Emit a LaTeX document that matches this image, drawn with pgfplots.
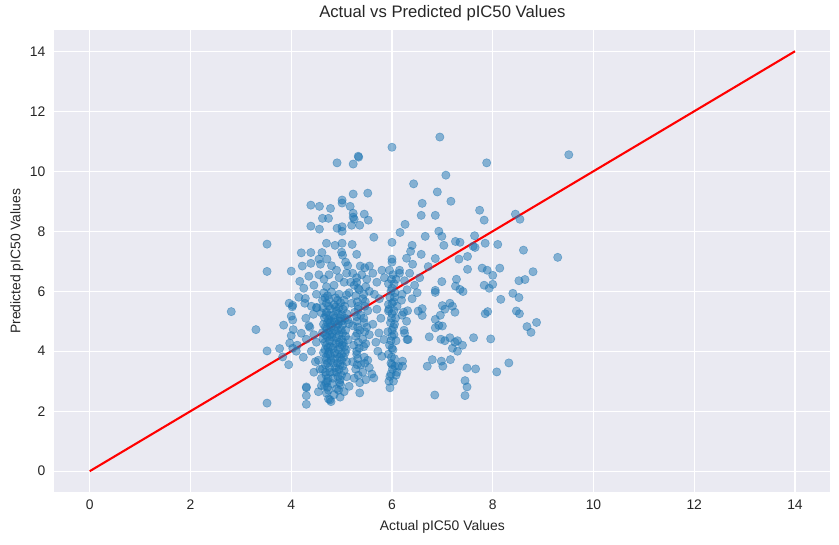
\documentclass[border=0pt]{standalone}
\usepackage{pgfplots}
\pgfplotsset{compat=1.18}
\usepackage{fontspec}
\setmainfont{Liberation Sans}
\definecolor{bgc}{HTML}{EAEAF2}
\definecolor{cz}{HTML}{1F77B4}
\definecolor{txt}{rgb}{0.15,0.15,0.15}
\begin{document}
\begin{tikzpicture}
\begin{axis}[
  name=ax,
  scale only axis,
  width=558.6pt, height=332.6pt,
  xmin=-0.7, xmax=14.7, ymin=-0.7, ymax=14.7,
  xtick={0,2,...,14}, ytick={0,2,...,14},
  /pgf/number format/assume math mode=true,
  tick label style={font=\fontsize{10}{12}\selectfont, text=txt},
  xticklabel style={inner sep=0pt, anchor=north, yshift=-5.6pt},
  yticklabel style={inner sep=0pt, anchor=east, xshift=-6.3pt},
  major tick length=0pt,
  axis line style={draw=none},
  axis background/.style={fill=bgc},
  grid=major,
  major grid style={white, line width=1pt},
  xlabel={Actual pIC50 Values},
  ylabel={Predicted pIC50 Values},
  every axis x label/.style={at={(axis description cs:0.5,-0.0752)}, anchor=center, font=\fontsize{10}{12}\selectfont, text=txt},
  every axis y label/.style={at={(axis description cs:-0.0485,0.5)}, rotate=90, anchor=center, font=\fontsize{10}{12}\selectfont, text=txt},
  title={Actual vs Predicted pIC50 Values},
  every axis title/.style={at={(axis description cs:0.5,1.037)}, anchor=center, font=\fontsize{12}{14}\selectfont, text=txt},
]
\addplot[only marks, mark=*, mark size=3pt, mark options={fill=cz, draw=cz, fill opacity=0.5, draw opacity=0.5, line width=0.4pt}] coordinates {
(2.81,5.32) (3.30,4.72) (3.52,7.57) (3.52,6.66) (3.52,4.01) (3.52,2.27) (3.77,4.09) (3.85,4.87) (3.83,3.81) (3.95,3.55)
(3.96,5.60) (4.02,5.48) (4.03,5.04) (4.00,5.17) (4.04,4.72) (4.00,4.52) (3.97,4.27) (4.03,4.10) (4.10,4.00) (4.12,4.20)
(4.24,3.80) (4.30,2.81) (4.30,2.78) (4.30,2.52) (4.30,2.23) (4.29,5.10) (4.35,4.85) (4.27,5.60) (4.28,5.76) (4.03,5.53)
(4.00,6.67) (4.17,6.33) (4.20,7.28) (4.39,7.29) (4.61,7.29) (4.55,7.07) (4.71,7.07) (4.22,6.84) (4.39,6.93)
(4.39,8.87) (4.56,8.83) (4.78,8.76) (5.01,9.04) (5.01,8.94) (5.17,8.83) (5.23,8.60) (5.23,8.47) (5.25,8.40) (5.45,8.57)
(5.53,8.37) (4.62,8.43) (4.74,8.43) (4.39,8.17) (4.56,8.07) (4.91,8.10) (5.01,8.15) (5.01,8.00) (5.20,8.20) (5.36,8.20)
(4.91,10.28) (5.23,10.24) (5.33,10.50) (5.34,10.47) (6.00,10.80) (6.95,11.14) (7.88,10.28) (9.51,10.55) (7.07,9.87) (6.43,9.58)
(5.52,9.27) (5.23,9.24) (6.90,9.31) (7.17,9.00) (6.60,8.93) (7.74,8.70) (7.83,8.37) (8.45,8.57) (8.54,8.40) (6.58,8.53)
(6.86,8.53) (6.26,8.23) (6.16,7.96) (6.93,8.00) (6.99,7.83) (6.66,7.83) (5.64,7.80) (7.64,7.85) (4.70,7.60) (4.87,7.53)
(5.01,7.60) (5.21,7.56) (6.00,7.63) (6.40,7.53) (6.37,7.33) (7.03,7.53) (7.26,7.66) (7.35,7.63) (7.61,7.50) (7.65,7.46)
(7.85,7.60) (8.10,7.56) (8.61,7.37) (9.29,7.13) (5.00,7.30) (5.02,7.20) (5.08,6.97) (5.12,6.85) (5.30,7.23) (5.37,6.84)
(5.46,6.78) (5.55,6.84) (6.00,7.07) (6.00,6.97) (6.29,7.10) (6.41,6.90) (6.58,7.23) (6.72,6.82) (6.86,7.09) (7.33,7.07)
(7.50,7.16) (7.50,6.73) (7.79,6.77) (7.89,6.70) (8.00,6.53) (8.14,6.77) (8.80,6.65) (8.52,6.35) (8.64,6.39) (7.83,6.20)
(7.93,6.10) (8.00,6.23) (7.28,6.40) (7.26,6.17) (7.35,6.06) (7.41,5.99) (6.99,6.32) (6.86,6.03) (6.86,5.96) (8.40,5.93)
(8.52,5.79) (8.16,5.73) (8.47,5.34) (8.53,5.25) (8.87,4.96) (8.68,4.82) (8.76,4.63) (6.52,5.34) (6.60,5.19) (6.60,5.42)
(6.86,5.06) (6.86,4.78) (6.93,4.86) (7.00,4.84) (6.96,5.20) (7.00,5.52) (7.05,5.40) (7.15,5.60) (7.25,5.30) (7.20,5.50)
(7.85,5.25) (7.90,5.32) (6.74,4.48) (6.32,4.39) (6.97,4.40) (7.05,4.35) (7.15,4.45) (7.25,4.30) (7.30,4.35) (7.40,4.20)
(7.30,4.00) (7.20,4.10) (7.62,4.45) (7.96,4.41) (6.21,3.67) (6.21,3.50) (6.80,3.72) (6.70,3.50) (6.98,3.67) (7.01,3.50)
(7.16,3.72) (7.49,3.44) (7.66,3.41) (8.08,3.31) (8.32,3.61) (7.45,3.02) (7.49,2.81) (7.45,2.52) (6.85,2.54) (6.24,4.70)
(6.31,5.35) (6.23,5.30) (6.20,5.20) (6.10,3.30) (6.06,3.50) (6.03,3.00) (5.96,3.16) (5.96,2.78) (4.54,3.70) (4.57,3.40)
(4.60,3.10) (4.60,2.85) (4.54,2.65) (4.74,2.41) (4.79,2.32) (4.97,2.47) (4.77,2.38) (5.36,2.61) (5.15,2.83) (6.13,3.50)
(5.60,3.24) (5.64,3.11) (5.80,3.83) (5.74,4.61) (5.84,4.39) (6.30,4.39) (5.93,5.56) (5.93,5.34) (6.19,5.70) (6.25,4.60)
(6.29,5.00)
(4.65,5.95) (4.72,5.85) (4.80,5.98) (4.88,5.78) (4.95,5.90) (5.05,5.70) (4.70,5.60) (4.85,5.55) (4.62,5.70) (5.10,5.88)
(4.75,5.72) (4.98,5.62)
(4.63,5.45) (4.70,5.30) (4.78,5.42) (4.84,5.20) (4.90,5.35) (4.97,5.10) (5.03,5.40) (5.10,5.25) (4.66,5.12) (4.74,5.05)
(4.88,5.48) (5.00,5.22) (4.80,5.00) (5.12,5.05) (4.60,5.28)
(4.64,4.90) (4.71,4.75) (4.77,4.95) (4.82,4.60) (4.89,4.82) (4.95,4.55) (5.02,4.88) (5.08,4.70) (4.68,4.55) (4.86,4.98)
(4.75,4.68) (4.99,4.72) (4.62,4.62) (5.14,4.92) (4.93,4.90)
(4.63,4.42) (4.70,4.20) (4.76,4.35) (4.83,4.10) (4.90,4.45) (4.96,4.15) (5.03,4.30) (5.09,4.05) (4.67,4.05) (4.80,4.48)
(4.88,4.25) (5.00,4.40) (4.73,4.12) (5.13,4.38)
(4.64,3.95) (4.70,3.70) (4.78,3.85) (4.84,3.60) (4.91,3.90) (4.97,3.55) (5.04,3.80) (5.10,3.65) (4.68,3.55) (4.86,3.75)
(4.75,3.98) (5.00,3.70)
(4.62,3.40) (4.69,3.20) (4.76,3.45) (4.83,3.10) (4.90,3.30) (4.97,3.05) (5.05,3.35) (4.72,3.00) (4.88,3.45) (5.10,3.15)
(4.66,2.85) (4.74,2.70) (4.82,2.92) (4.90,2.75) (4.98,2.88) (4.70,2.60) (5.05,2.65)
(4.67,5.78) (4.74,5.50) (4.69,5.20) (4.72,4.95) (4.68,4.80) (4.71,4.48) (4.67,4.30) (4.73,3.90) (4.69,3.80) (4.72,3.60)
(4.68,3.30) (4.73,3.10) (4.69,2.95) (4.72,2.80) (4.76,5.20) (4.79,4.82) (4.77,4.55) (4.78,4.15) (4.79,3.70) (4.77,3.30)
(4.92,5.70) (4.95,5.45) (4.93,5.25) (4.96,5.00) (4.92,4.70) (4.95,4.30) (4.93,4.05) (4.96,3.80) (4.92,3.60) (4.95,3.40)
(4.93,3.15) (4.96,2.95) (4.94,2.70) (4.85,5.10) (4.86,4.70) (4.84,4.35) (4.86,3.95) (4.85,3.30) (4.85,2.55) (5.00,5.00)
(5.02,4.60) (5.01,4.20) (5.00,3.90) (5.02,3.50) (5.00,3.20) (5.06,5.50) (5.07,5.10) (5.08,4.50) (5.06,4.15) (5.07,3.95)
(5.30,6.30) (5.33,6.10) (5.31,5.65) (5.33,5.40) (5.30,5.15) (5.32,4.80) (5.31,4.60) (5.33,4.30) (5.30,4.00) (5.32,3.75)
(5.31,3.55) (5.33,3.20) (5.44,5.90) (5.46,5.50) (5.44,5.10) (5.46,4.65) (5.44,4.15) (5.46,3.60)
(5.99,6.40) (5.98,6.00) (6.00,5.60) (5.99,5.10) (6.00,4.70) (5.98,4.35) (6.00,4.10) (5.99,3.80) (6.00,3.55) (5.98,3.25)
(6.04,6.25) (6.05,5.80) (6.04,5.35) (6.05,4.90) (6.04,4.55)
(5.95,6.70) (6.02,6.55) (6.08,6.40) (5.93,6.25) (6.00,6.10) (6.06,5.95) (5.96,5.80) (6.03,5.65) (6.10,5.50) (5.94,5.40)
(5.22,6.60) (5.30,6.45) (5.40,6.55) (5.50,6.40) (5.25,6.20) (5.35,6.05) (5.48,6.15) (5.55,6.00) (5.28,5.85) (5.42,5.75)
(5.20,5.60) (5.33,5.50) (5.47,5.65) (5.26,5.30) (5.38,5.20) (5.52,5.35) (5.30,5.00) (5.45,4.95) (5.22,4.85) (5.36,4.70)
(5.50,4.80) (5.28,4.50) (5.42,4.40) (5.55,4.55) (5.24,4.20) (5.35,4.10) (5.48,4.25) (5.30,3.90) (5.45,3.80) (5.22,3.65)
(5.38,3.55) (5.52,3.70) (5.28,3.40) (5.42,3.30) (5.55,3.45) (5.25,3.10) (5.36,2.95) (5.48,3.05)
(6.00,5.25) (6.07,5.10) (5.97,4.95) (6.03,4.80) (5.92,4.65) (6.00,4.50) (6.08,4.35) (5.95,4.20) (6.02,4.05) (5.93,3.90)
(6.05,3.75) (5.98,3.60) (6.01,3.40) (6.08,3.20) (5.94,3.00)
(5.65,5.90) (5.70,5.40) (5.62,4.90) (5.78,5.10) (5.68,4.30) (5.72,4.00) (5.70,6.30) (5.85,6.45) (5.75,5.75) (5.18,6.30)
(5.15,5.95) (5.62,6.60) (5.80,6.70)
(6.15,6.60) (6.25,6.35) (6.35,6.60) (6.45,6.20) (6.20,5.90) (6.40,5.75) (6.30,6.05) (6.50,5.95) (6.55,6.45) (6.15,6.70)
(4.15,5.80) (4.25,6.10) (4.35,6.50) (4.45,6.20) (4.50,5.90) (4.55,6.55) (4.40,5.50) (4.50,5.45) (4.44,5.23) (4.51,5.46)
(4.37,4.80) (4.45,4.55) (4.50,4.30) (4.40,4.00) (4.48,3.65) (4.45,3.30) (4.20,4.60) (4.30,4.40) (4.58,6.90) (4.65,6.40)
(4.75,6.55) (4.85,6.20) (4.95,6.45) (5.05,6.30) (4.90,6.70) (4.80,6.85) (5.10,6.60) (4.70,6.15)
};
\addplot[red, line width=1.5pt] coordinates {(0,0) (14,14)};
\end{axis}
\pgfresetboundingbox
\path[use as bounding box] ([shift={(-39.2pt,-37.9pt)}]ax.south west) rectangle ([shift={(6.3pt,21.8pt)}]ax.north east);
\end{tikzpicture}
\end{document}
